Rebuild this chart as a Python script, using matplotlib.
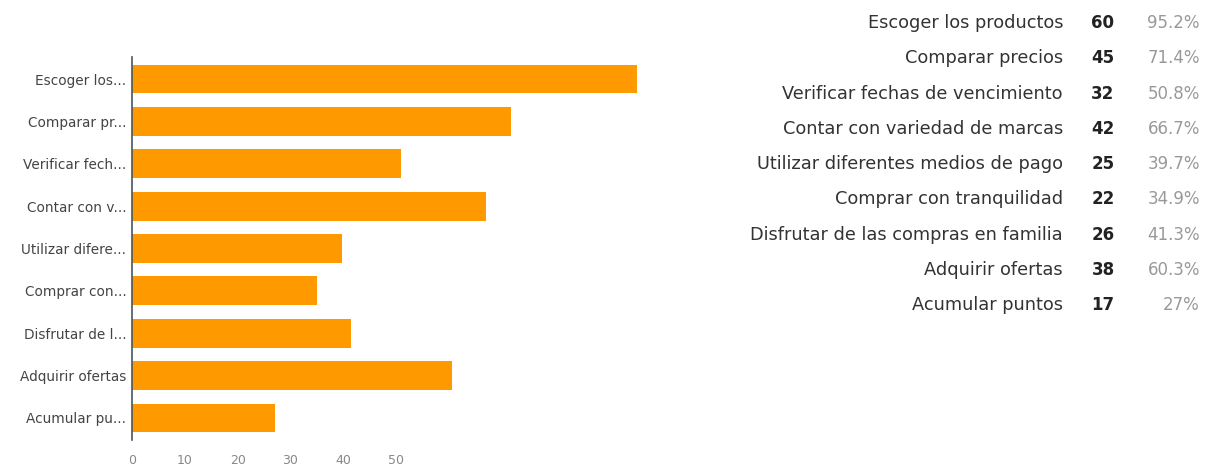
import matplotlib
matplotlib.use("Agg")
import matplotlib.pyplot as plt

categories = ["Escoger los productos", "Comparar precios", "Verificar fechas de vencimiento",
              "Contar con variedad de marcas", "Utilizar diferentes medios de pago",
              "Comprar con tranquilidad", "Disfrutar de las compras en familia",
              "Adquirir ofertas", "Acumular puntos"]
short_labels = ["Escoger los...", "Comparar pr...", "Verificar fech...", "Contar con v...",
                "Utilizar difere...", "Comprar con...", "Disfrutar de l...", "Adquirir ofertas",
                "Acumular pu..."]
counts = [60, 45, 32, 42, 25, 22, 26, 38, 17]
percents = ["95.2%", "71.4%", "50.8%", "66.7%", "39.7%", "34.9%", "41.3%", "60.3%", "27%"]
tick_values = [0, 10, 20, 30, 40, 50]

plt.rcParams['font.family'] = ['DejaVu Sans']

W, H = 1208, 468
fig = plt.figure(figsize=(W / 100, H / 100), dpi=100)
left_px, right_px, top_px, bot_px = 132, 645.6, 57, 440
ax = fig.add_axes([left_px / W, 1 - bot_px / H, (right_px - left_px) / W, (bot_px - top_px) / H])

y = list(range(len(categories)))
ax.barh(y, counts, height=0.68, color="#FF9900")
ax.set_xlim(0, 61)
ax.set_ylim(len(categories) - 0.48, -0.52)
ax.set_yticks(y)
ax.set_yticklabels(short_labels, fontsize=9.8, color="#444444")
ax.tick_params(axis="y", length=0, pad=4)
for s in ["top", "right", "bottom"]:
    ax.spines[s].set_visible(False)
ax.spines["left"].set_color("#4a5560")
ax.spines["left"].set_linewidth(1.2)
ax.set_xticks([])

# tick labels as shown in the picture (their spacing differs from the bar scale)
k = 8.42 / 5.28
sec = ax.secondary_xaxis("bottom", functions=(lambda v: v * k, lambda v: v / k))
sec.set_xticks(tick_values)
sec.set_xticklabels([str(t) for t in tick_values], fontsize=9, color="#888888")
sec.tick_params(length=0, pad=10)
sec.spines["bottom"].set_visible(False)

# summary table on the right
row0, step = 23, 35.3
for i, (c, n, p) in enumerate(zip(categories, counts, percents)):
    yy = 1 - (row0 + i * step) / H
    fig.text(1063 / W, yy, c, ha="right", va="center", fontsize=12.8, color="#333333")
    fig.text(1103 / W, yy, str(n), ha="center", va="center", fontsize=12,
             color="#222222", fontweight="bold")
    fig.text(1200 / W, yy, p, ha="right", va="center", fontsize=12, color="#999999")

fig.savefig("out.png", dpi=100, facecolor="white")
